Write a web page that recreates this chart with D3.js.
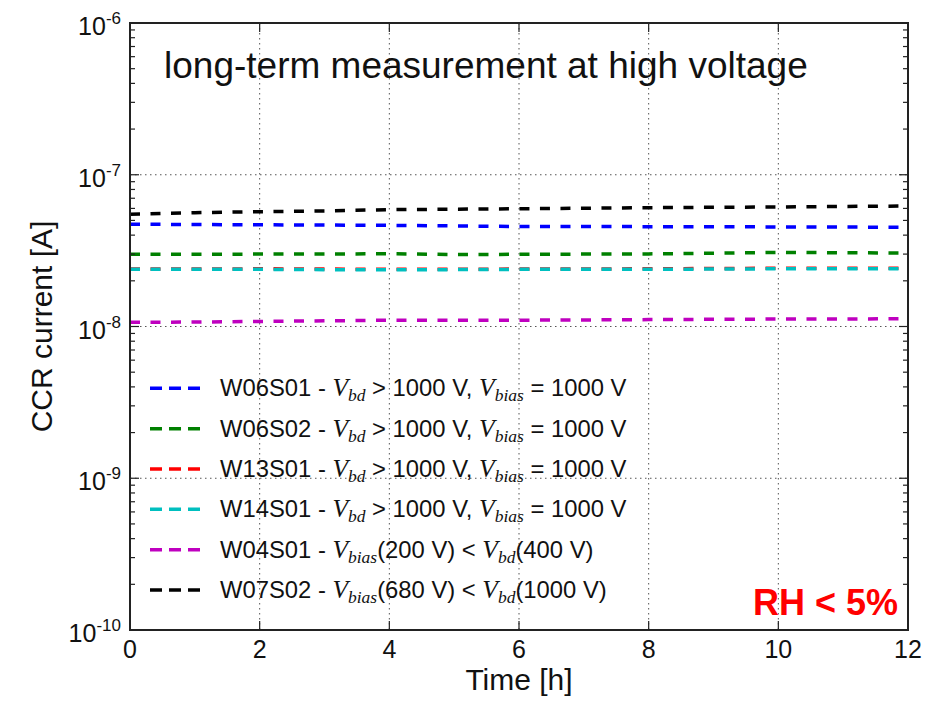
<!doctype html>
<html>
<head>
<meta charset="UTF-8">
<title>CCR current</title>
<script src="https://cdn.jsdelivr.net/npm/d3@7"></script>
<style>
  body { margin: 0; background: #fff; }
  text { font-family: "Liberation Sans", Arial, sans-serif; fill: #111; }
  .math { font-family: "Liberation Serif", "DejaVu Serif", serif; font-style: italic; }
</style>
</head>
<body>
<script>
// data (current in A, time in h)
var times = [0, 1, 2, 3, 4, 5, 6, 7, 8, 9, 10, 11, 12];
var w06s01 = [4.72, 4.70, 4.68, 4.66, 4.64, 4.60, 4.56, 4.56, 4.55, 4.55, 4.53, 4.52, 4.51];
var w06s02 = [2.99, 2.99, 3.00, 3.00, 3.02, 2.98, 2.99, 3.00, 3.01, 3.04, 3.08, 3.06, 3.05];
var w13s01 = [2.39, 2.39, 2.40, 2.39, 2.38, 2.38, 2.39, 2.39, 2.40, 2.41, 2.42, 2.42, 2.42];
var w14s01 = [2.38, 2.38, 2.38, 2.37, 2.37, 2.37, 2.38, 2.38, 2.38, 2.39, 2.40, 2.40, 2.40];
var w04s01 = [1.066, 1.07, 1.08, 1.09, 1.10, 1.10, 1.10, 1.105, 1.11, 1.115, 1.12, 1.12, 1.125];
var w07s02 = [5.49, 5.62, 5.71, 5.78, 5.89, 5.93, 5.97, 6.02, 6.07, 6.10, 6.13, 6.18, 6.22];

var seriesNames = ["W06S01", "W06S02", "W13S01", "W14S01", "W04S01", "W07S02"];
var seriesValues = [w06s01, w06s02, w13s01, w14s01, w04s01, w07s02];
var seriesScale = [1e-8, 1e-8, 1e-8, 1e-8, 1e-8, 1e-8];
var seriesColors = ["#0000ff", "#008000", "#ff0000", "#00bfbf", "#bf00bf", "#000000"];

var xTicks = [0, 2, 4, 6, 8, 10, 12];
var yTicks = [1e-10, 1e-9, 1e-8, 1e-7, 1e-6];
var yExp = ["-10", "-9", "-8", "-7", "-6"];

// legend text pieces: [plain, math, sub, plain, math, sub, plain]
var legendParts = [
  [" - ", "V", "bd", " > 1000 V, ", "V", "bias", " = 1000 V"],
  [" - ", "V", "bd", " > 1000 V, ", "V", "bias", " = 1000 V"],
  [" - ", "V", "bd", " > 1000 V, ", "V", "bias", " = 1000 V"],
  [" - ", "V", "bd", " > 1000 V, ", "V", "bias", " = 1000 V"],
  [" - ", "V", "bias", "(200 V) < ", "V", "bd", "(400 V)"],
  [" - ", "V", "bias", "(680 V) < ", "V", "bd", "(1000 V)"]
];

var W = 938, H = 701;
var pL = 130, pR = 908, pT = 23, pB = 630;

var svg = d3.select("body").append("svg")
  .attr("width", W).attr("height", H);

var x = d3.scaleLinear().domain([0, 12]).range([pL, pR]);
var y = d3.scaleLog().domain([1e-10, 1e-6]).range([pB, pT]);

// grid
var grid = svg.append("g").attr("stroke", "#555").attr("stroke-width", 1)
  .attr("stroke-dasharray", "1.5,3.5");
grid.selectAll(".gx").data(xTicks.slice(1, -1)).enter().append("line")
  .attr("x1", d => x(d)).attr("x2", d => x(d))
  .attr("y1", pT).attr("y2", pB);
grid.selectAll(".gy").data(yTicks.slice(1, -1)).enter().append("line")
  .attr("x1", pL).attr("x2", pR)
  .attr("y1", d => y(d)).attr("y2", d => y(d));

// lines
var line = d3.line()
  .x(d => x(d[0]))
  .y(d => y(d[1]));

seriesValues.forEach(function(vals, i) {
  var pts = times.map((t, j) => [t, vals[j] * seriesScale[i]]);
  svg.append("path")
    .datum(pts)
    .attr("d", line)
    .attr("fill", "none")
    .attr("stroke", seriesColors[i])
    .attr("stroke-width", 3.5)
    .attr("stroke-dasharray", "10,10.5");
});

// ticks (inside, both sides)
var minor = [];
for (var e = -10; e < -6; e++) {
  for (var m = 2; m < 10; m++) minor.push(m * Math.pow(10, e));
}
var tk = svg.append("g").attr("stroke", "#222").attr("stroke-width", 1.2);
tk.selectAll(".mn").data(minor).enter().append("line")
  .attr("x1", pL).attr("x2", pL + 5)
  .attr("y1", d => y(d)).attr("y2", d => y(d));
tk.selectAll(".mnr").data(minor).enter().append("line")
  .attr("x1", pR).attr("x2", pR - 5)
  .attr("y1", d => y(d)).attr("y2", d => y(d));
tk.selectAll(".mj").data(yTicks).enter().append("line")
  .attr("x1", pL).attr("x2", pL + 9)
  .attr("y1", d => y(d)).attr("y2", d => y(d));
tk.selectAll(".mjr").data(yTicks).enter().append("line")
  .attr("x1", pR).attr("x2", pR - 9)
  .attr("y1", d => y(d)).attr("y2", d => y(d));
tk.selectAll(".xb").data(xTicks).enter().append("line")
  .attr("x1", d => x(d)).attr("x2", d => x(d))
  .attr("y1", pB).attr("y2", pB - 9);
tk.selectAll(".xt").data(xTicks).enter().append("line")
  .attr("x1", d => x(d)).attr("x2", d => x(d))
  .attr("y1", pT).attr("y2", pT + 9);

// frame
svg.append("rect")
  .attr("x", pL).attr("y", pT)
  .attr("width", pR - pL).attr("height", pB - pT)
  .attr("fill", "none").attr("stroke", "#222").attr("stroke-width", 2);

// tick labels
svg.selectAll(".xl").data(xTicks).enter().append("text")
  .attr("x", d => x(d)).attr("y", 658)
  .attr("text-anchor", "middle")
  .attr("font-size", 25)
  .text(d => d);

var yl = svg.selectAll(".yl").data(yTicks).enter().append("text")
  .attr("x", 121).attr("y", d => y(d) + 12)
  .attr("text-anchor", "end")
  .attr("font-size", 25);
yl.append("tspan").text("10");
yl.append("tspan").attr("dy", -11).attr("font-size", 17).text((d, i) => yExp[i]);

// axis titles
svg.append("text")
  .attr("x", (pL + pR) / 2).attr("y", 690)
  .attr("text-anchor", "middle").attr("font-size", 30)
  .text("Time [h]");
svg.append("text")
  .attr("transform", "translate(52," + (pT + pB) / 2 + ") rotate(-90)")
  .attr("text-anchor", "middle").attr("font-size", 30)
  .text("CCR current [A]");

// title inside plot
svg.append("text")
  .attr("x", 164).attr("y", 78)
  .attr("font-size", 37)
  .text("long-term measurement at high voltage");

// RH label
svg.append("text")
  .attr("x", 898).attr("y", 615)
  .attr("text-anchor", "end")
  .attr("font-size", 36).attr("font-weight", "bold")
  .style("fill", "#ff0000")
  .text("RH < 5%");

// legend
var lg = svg.append("g");
seriesNames.forEach(function(name, i) {
  var ly = 388.3 + i * 40.35;
  lg.append("line")
    .attr("x1", 150).attr("x2", 200)
    .attr("y1", ly).attr("y2", ly)
    .attr("stroke", seriesColors[i])
    .attr("stroke-width", 3.5)
    .attr("stroke-dasharray", "12,7");
  var p = legendParts[i];
  var t = lg.append("text")
    .attr("x", 220).attr("y", ly + 8)
    .attr("font-size", 23.8);
  t.append("tspan").text(name + p[0]);
  t.append("tspan").attr("class", "math").attr("font-size", 25.5).text(p[1]);
  t.append("tspan").attr("class", "math").attr("font-size", 17.5).attr("dy", 5).text(p[2]);
  t.append("tspan").attr("dy", -5).text(p[3]);
  t.append("tspan").attr("class", "math").attr("font-size", 25.5).text(p[4]);
  t.append("tspan").attr("class", "math").attr("font-size", 17.5).attr("dy", 5).text(p[5]);
  t.append("tspan").attr("dy", -5).text(p[6]);
});
</script>
</body>
</html>
